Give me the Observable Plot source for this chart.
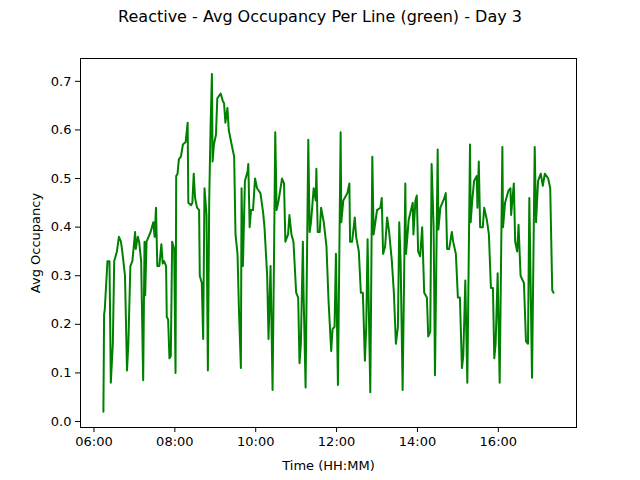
<!DOCTYPE html>
<html>
<head>
<meta charset="utf-8">
<script src="https://cdn.jsdelivr.net/npm/d3@7"></script>
<script src="https://cdn.jsdelivr.net/npm/@observablehq/plot@0.6"></script>
<style>
  body { margin: 0; background: #fff; }
  #wrap { position: relative; width: 640px; height: 480px; font-family: "DejaVu Sans", sans-serif; }
  #title { position: absolute; top: 7px; left: 0; width: 640px; text-align: center; font-size: 16px; }
</style>
</head>
<body>
<div id="wrap">
  <div id="title">Reactive - Avg Occupancy Per Line (green) - Day 3</div>
  <div id="chart"></div>
</div>
<script>
const times = ["06:14","06:15","06:16","06:20","06:23","06:25","06:28","06:30","06:34","06:37","06:40","06:42","06:46","06:49","06:51","06:54","06:57","07:01","07:02","07:05","07:07","07:10","07:13","07:15","07:16","07:18","07:24","07:28","07:30","07:32","07:34","07:37","07:40","07:42","07:44","07:47","07:48","07:50","07:52","07:54","07:56","07:59","08:01","08:02","08:04","08:06","08:09","08:12","08:16","08:19","08:20","08:24","08:26","08:28","08:30","08:33","08:36","08:37","08:40","08:42","08:44","08:47","08:49","08:51","08:53","08:55","08:56","08:58","09:01","09:03","09:08","09:11","09:13","09:15","09:18","09:20","09:25","09:28","09:30","09:33","09:35","09:38","09:39","09:41","09:44","09:48","09:49","09:51","09:53","09:56","09:59","10:02","10:07","10:11","10:13","10:17","10:19","10:22","10:25","10:27","10:29","10:31","10:34","10:39","10:42","10:44","10:48","10:50","10:53","10:56","11:00","11:03","11:05","11:07","11:10","11:11","11:14","11:18","11:20","11:22","11:26","11:29","11:30","11:32","11:35","11:37","11:41","11:43","11:45","11:48","11:52","11:54","11:57","11:59","12:02","12:06","12:07","12:10","12:16","12:19","12:20","12:23","12:27","12:29","12:33","12:36","12:39","12:42","12:44","12:46","12:50","12:53","12:55","13:00","13:05","13:07","13:09","13:12","13:15","13:18","13:22","13:25","13:28","13:31","13:33","13:35","13:38","13:42","13:43","13:47","13:53","13:54","13:57","13:59","14:01","14:04","14:07","14:10","14:14","14:16","14:19","14:21","14:24","14:26","14:30","14:31","14:34","14:40","14:42","14:44","14:47","14:51","14:53","14:57","15:00","15:03","15:06","15:08","15:11","15:14","15:18","15:19","15:21","15:24","15:28","15:29","15:31","15:33","15:37","15:39","15:43","15:46","15:49","15:52","15:54","15:56","15:59","16:02","16:06","16:07","16:10","16:15","16:18","16:19","16:23","16:25","16:28","16:30","16:33","16:38","16:41","16:44","16:46","16:50","16:54","16:56","16:59","17:03","17:06","17:09","17:14","17:17","17:20","17:22"];
const occupancy = [0.02,0.22,0.23,0.33,0.33,0.08,0.16,0.33,0.35,0.38,0.37,0.35,0.30,0.105,0.16,0.32,0.33,0.39,0.355,0.38,0.37,0.33,0.085,0.37,0.26,0.37,0.39,0.41,0.38,0.44,0.32,0.32,0.365,0.325,0.33,0.32,0.215,0.21,0.13,0.135,0.37,0.355,0.10,0.505,0.51,0.54,0.545,0.57,0.575,0.615,0.45,0.445,0.45,0.51,0.46,0.44,0.435,0.30,0.285,0.17,0.48,0.425,0.105,0.455,0.605,0.715,0.535,0.57,0.59,0.665,0.675,0.66,0.655,0.615,0.645,0.60,0.565,0.545,0.385,0.345,0.235,0.11,0.48,0.32,0.495,0.515,0.53,0.40,0.435,0.435,0.50,0.48,0.47,0.43,0.40,0.30,0.17,0.32,0.065,0.32,0.595,0.435,0.455,0.50,0.49,0.37,0.385,0.425,0.385,0.37,0.265,0.255,0.12,0.16,0.37,0.265,0.07,0.58,0.39,0.41,0.48,0.455,0.52,0.39,0.39,0.44,0.41,0.385,0.36,0.25,0.145,0.19,0.195,0.345,0.075,0.595,0.41,0.455,0.47,0.49,0.37,0.37,0.42,0.38,0.35,0.265,0.265,0.125,0.195,0.375,0.06,0.545,0.385,0.435,0.44,0.46,0.345,0.36,0.42,0.39,0.33,0.265,0.16,0.195,0.41,0.33,0.065,0.49,0.345,0.415,0.45,0.385,0.455,0.465,0.35,0.34,0.40,0.265,0.255,0.175,0.185,0.53,0.40,0.095,0.56,0.395,0.44,0.46,0.47,0.355,0.355,0.39,0.37,0.345,0.255,0.255,0.11,0.135,0.29,0.08,0.57,0.41,0.45,0.495,0.505,0.44,0.535,0.40,0.40,0.44,0.415,0.385,0.275,0.275,0.13,0.16,0.305,0.08,0.565,0.40,0.45,0.475,0.48,0.425,0.49,0.37,0.35,0.405,0.30,0.285,0.165,0.16,0.46,0.09,0.565,0.41,0.495,0.51,0.485,0.51,0.50,0.48,0.27,0.265];
const xTicks = ["06:00","08:00","10:00","12:00","14:00","16:00"];
const yTicks = [0, 0.1, 0.2, 0.3, 0.4, 0.5, 0.6, 0.7];

const parse = d3.timeParse("%H:%M");
const data = times.map((t, i) => ({time: parse(t), value: occupancy[i]}));

const chart = Plot.plot({
  width: 640,
  height: 480,
  marginLeft: 80,
  marginRight: 64,
  marginTop: 58,
  marginBottom: 53,
  style: {fontFamily: "DejaVu Sans, sans-serif", fontSize: "13px", color: "#000"},
  x: {
    domain: [parse("05:40"), parse("17:56")],
    ticks: xTicks.map(parse),
    tickFormat: d3.timeFormat("%H:%M"),
    tickSize: 5,
    label: "Time (HH:MM)",
    labelAnchor: "center",
    labelArrow: "none",
    labelOffset: 42
  },
  y: {
    domain: [-0.0123, 0.747],
    ticks: yTicks,
    tickFormat: d3.format(".1f"),
    tickSize: 5,
    label: "Avg Occupancy",
    labelAnchor: "center",
    labelArrow: "none",
    labelOffset: 50
  },
  marks: [
    Plot.frame({stroke: "#000", strokeWidth: 1}),
    Plot.line(data, {x: "time", y: "value", stroke: "#008000", strokeWidth: 2})
  ]
});

d3.select("#chart").append(() => chart);
</script>
</body>
</html>
